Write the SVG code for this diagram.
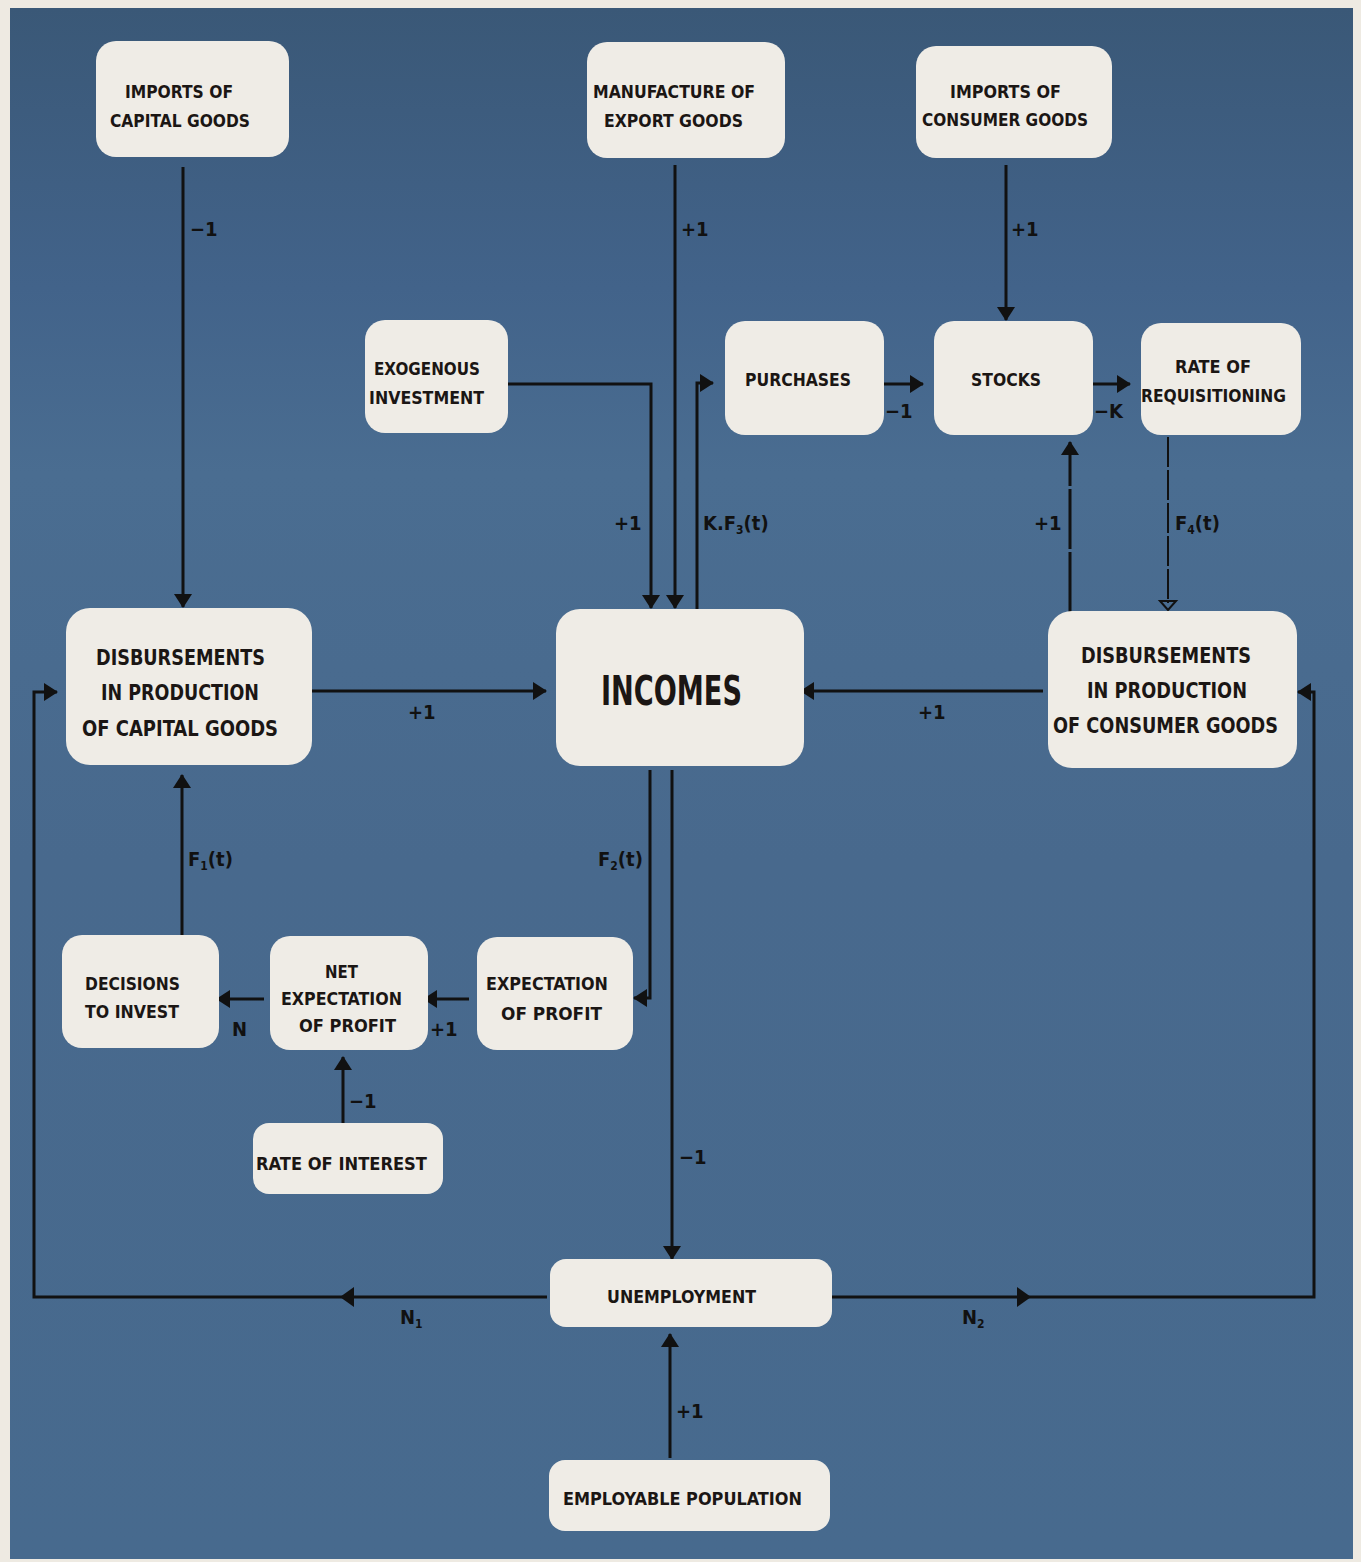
<svg xmlns="http://www.w3.org/2000/svg" width="1361" height="1562" viewBox="0 0 1361 1562">
<defs>
<linearGradient id="bg" x1="0" y1="0" x2="0" y2="1">
<stop offset="0" stop-color="#3a5877"/>
<stop offset="0.18" stop-color="#42638a"/>
<stop offset="0.3" stop-color="#4a6d91"/>
<stop offset="0.55" stop-color="#48698d"/>
<stop offset="1" stop-color="#476a8e"/>
</linearGradient>
<marker id="ah" markerUnits="userSpaceOnUse" viewBox="0 0 14 18" markerWidth="14" markerHeight="18" refX="13" refY="9" orient="auto">
<path d="M0,0 L14,9 L0,18 Z" fill="#111"/>
</marker>
<style>
.node rect{fill:#efece6}
.t{font-family:"DejaVu Sans Condensed","DejaVu Sans",sans-serif;font-weight:bold;fill:#1b1614;font-size:18px}
.big{font-size:22px}
.lbl{font-family:"DejaVu Sans Condensed","DejaVu Sans",sans-serif;font-weight:bold;fill:#111;font-size:20px}
.sub{font-size:12px}
.e{stroke:#111;stroke-width:3;fill:none}
.ea{stroke:#111;stroke-width:3;fill:none;marker-end:url(#ah)}
</style>
</defs>
<rect x="0" y="0" width="1361" height="1562" fill="#eeeae2"/>
<rect x="10" y="8" width="1343" height="1551" fill="url(#bg)"/>

<g id="connectors">
<path class="ea" d="M183,167 V607"/>
<path class="ea" d="M675,165 V608"/>
<path class="ea" d="M1006,165 V320"/>
<path class="ea" d="M500,384 H651 V608"/>
<path class="ea" d="M697,609 V383 H713"/>
<path class="ea" d="M877,384 H923"/>
<path class="ea" d="M1089,384 H1130"/>
<path d="M1168,437 V603" stroke="#111" stroke-width="2" stroke-dasharray="30 3" fill="none"/>
<path d="M1160,601 L1176,601 L1168,610 Z" fill="none" stroke="#111" stroke-width="2"/>
<path class="ea" d="M1070,612 V442" stroke-dasharray="60 3"/>
<path class="ea" d="M307,691 H546"/>
<path class="ea" d="M1043,691 H801"/>
<path class="ea" d="M650,770 V998 H634"/>
<path class="ea" d="M672,770 V1259"/>
<path class="ea" d="M469,999 H424"/>
<path class="ea" d="M264,999 H217"/>
<path class="ea" d="M182,940 V775"/>
<path class="ea" d="M343,1129 V1057"/>
<path class="ea" d="M670,1458 V1334"/>
<path class="ea" d="M547,1297 H34 V692 H57"/>
<path class="ea" d="M826,1297 H1314 V692 H1298"/>
<path d="M340,1297 L354,1287 L354,1307 Z" fill="#111"/>
<path d="M1031,1297 L1017,1287 L1017,1307 Z" fill="#111"/>
</g>

<g id="labels">
<text class="lbl" x="190" y="236">−1</text>
<text class="lbl" x="681" y="236">+1</text>
<text class="lbl" x="1011" y="236">+1</text>
<text class="lbl" x="614" y="530">+1</text>
<text class="lbl" x="703" y="530">K.F<tspan class="sub" dy="4">3</tspan><tspan dy="-4">(t)</tspan></text>
<text class="lbl" x="885" y="418">−1</text>
<text class="lbl" x="1094" y="418">−K</text>
<text class="lbl" x="1034" y="530">+1</text>
<text class="lbl" x="1175" y="530">F<tspan class="sub" dy="4">4</tspan><tspan dy="-4">(t)</tspan></text>
<text class="lbl" x="408" y="719">+1</text>
<text class="lbl" x="918" y="719">+1</text>
<text class="lbl" x="188" y="866">F<tspan class="sub" dy="4">1</tspan><tspan dy="-4">(t)</tspan></text>
<text class="lbl" x="598" y="866">F<tspan class="sub" dy="4">2</tspan><tspan dy="-4">(t)</tspan></text>
<text class="lbl" x="232" y="1036">N</text>
<text class="lbl" x="430" y="1036">+1</text>
<text class="lbl" x="349" y="1108">−1</text>
<text class="lbl" x="679" y="1164">−1</text>
<text class="lbl" x="676" y="1418">+1</text>
<text class="lbl" x="400" y="1324">N<tspan class="sub" dy="4">1</tspan></text>
<text class="lbl" x="962" y="1324">N<tspan class="sub" dy="4">2</tspan></text>
</g>

<g id="imports-capital" class="node">
<rect x="96" y="41" width="193" height="116" rx="20"/>
<text class="t" x="125" y="98" textLength="108" lengthAdjust="spacingAndGlyphs">IMPORTS OF</text>
<text class="t" x="110" y="127" textLength="140" lengthAdjust="spacingAndGlyphs">CAPITAL GOODS</text>
</g>
<g id="manufacture-export" class="node">
<rect x="587" y="42" width="198" height="116" rx="20"/>
<text class="t" x="593" y="98" textLength="162" lengthAdjust="spacingAndGlyphs">MANUFACTURE OF</text>
<text class="t" x="604" y="127" textLength="139" lengthAdjust="spacingAndGlyphs">EXPORT GOODS</text>
</g>
<g id="imports-consumer" class="node">
<rect x="916" y="46" width="196" height="112" rx="20"/>
<text class="t" x="950" y="98" textLength="111" lengthAdjust="spacingAndGlyphs">IMPORTS OF</text>
<text class="t" x="922" y="126" textLength="166" lengthAdjust="spacingAndGlyphs">CONSUMER GOODS</text>
</g>
<g id="exogenous" class="node">
<rect x="365" y="320" width="143" height="113" rx="20"/>
<text class="t" x="374" y="375" textLength="106" lengthAdjust="spacingAndGlyphs">EXOGENOUS</text>
<text class="t" x="369" y="404" textLength="115" lengthAdjust="spacingAndGlyphs">INVESTMENT</text>
</g>
<g id="purchases" class="node">
<rect x="725" y="321" width="159" height="114" rx="20"/>
<text class="t" x="745" y="386" textLength="106" lengthAdjust="spacingAndGlyphs">PURCHASES</text>
</g>
<g id="stocks" class="node">
<rect x="934" y="321" width="159" height="114" rx="20"/>
<text class="t" x="971" y="386" textLength="70" lengthAdjust="spacingAndGlyphs">STOCKS</text>
</g>
<g id="requisitioning" class="node">
<rect x="1141" y="323" width="160" height="112" rx="20"/>
<text class="t" x="1175" y="373" textLength="76" lengthAdjust="spacingAndGlyphs">RATE OF</text>
<text class="t" x="1141" y="402" textLength="145" lengthAdjust="spacingAndGlyphs">REQUISITIONING</text>
</g>
<g id="disb-capital" class="node">
<rect x="66" y="608" width="246" height="157" rx="24"/>
<text class="t big" x="96" y="665" textLength="169" lengthAdjust="spacingAndGlyphs">DISBURSEMENTS</text>
<text class="t big" x="101" y="700" textLength="158" lengthAdjust="spacingAndGlyphs">IN PRODUCTION</text>
<text class="t big" x="82" y="736" textLength="196" lengthAdjust="spacingAndGlyphs">OF CAPITAL GOODS</text>
</g>
<g id="incomes" class="node">
<rect x="556" y="609" width="248" height="157" rx="24"/>
<text class="t" style="font-size:40px" x="601" y="705" textLength="141" lengthAdjust="spacingAndGlyphs">INCOMES</text>
</g>
<g id="disb-consumer" class="node">
<rect x="1048" y="611" width="249" height="157" rx="24"/>
<text class="t big" x="1081" y="663" textLength="170" lengthAdjust="spacingAndGlyphs">DISBURSEMENTS</text>
<text class="t big" x="1087" y="698" textLength="160" lengthAdjust="spacingAndGlyphs">IN PRODUCTION</text>
<text class="t big" x="1053" y="733" textLength="225" lengthAdjust="spacingAndGlyphs">OF CONSUMER GOODS</text>
</g>
<g id="decisions" class="node">
<rect x="62" y="935" width="157" height="113" rx="20"/>
<text class="t" x="85" y="990" textLength="95" lengthAdjust="spacingAndGlyphs">DECISIONS</text>
<text class="t" x="85" y="1018" textLength="94" lengthAdjust="spacingAndGlyphs">TO INVEST</text>
</g>
<g id="net-expectation" class="node">
<rect x="270" y="936" width="158" height="114" rx="20"/>
<text class="t" x="325" y="978" textLength="33" lengthAdjust="spacingAndGlyphs">NET</text>
<text class="t" x="281" y="1005" textLength="121" lengthAdjust="spacingAndGlyphs">EXPECTATION</text>
<text class="t" x="299" y="1032" textLength="97" lengthAdjust="spacingAndGlyphs">OF PROFIT</text>
</g>
<g id="expectation" class="node">
<rect x="477" y="937" width="156" height="113" rx="20"/>
<text class="t" x="486" y="990" textLength="122" lengthAdjust="spacingAndGlyphs">EXPECTATION</text>
<text class="t" x="501" y="1020" textLength="101" lengthAdjust="spacingAndGlyphs">OF  PROFIT</text>
</g>
<g id="interest" class="node">
<rect x="253" y="1123" width="190" height="71" rx="16"/>
<text class="t" x="256" y="1170" textLength="171" lengthAdjust="spacingAndGlyphs">RATE OF INTEREST</text>
</g>
<g id="unemployment" class="node">
<rect x="550" y="1259" width="282" height="68" rx="16"/>
<text class="t" x="607" y="1303" textLength="149" lengthAdjust="spacingAndGlyphs">UNEMPLOYMENT</text>
</g>
<g id="employable" class="node">
<rect x="549" y="1460" width="281" height="71" rx="16"/>
<text class="t" x="563" y="1505" textLength="239" lengthAdjust="spacingAndGlyphs">EMPLOYABLE POPULATION</text>
</g>
</svg>
